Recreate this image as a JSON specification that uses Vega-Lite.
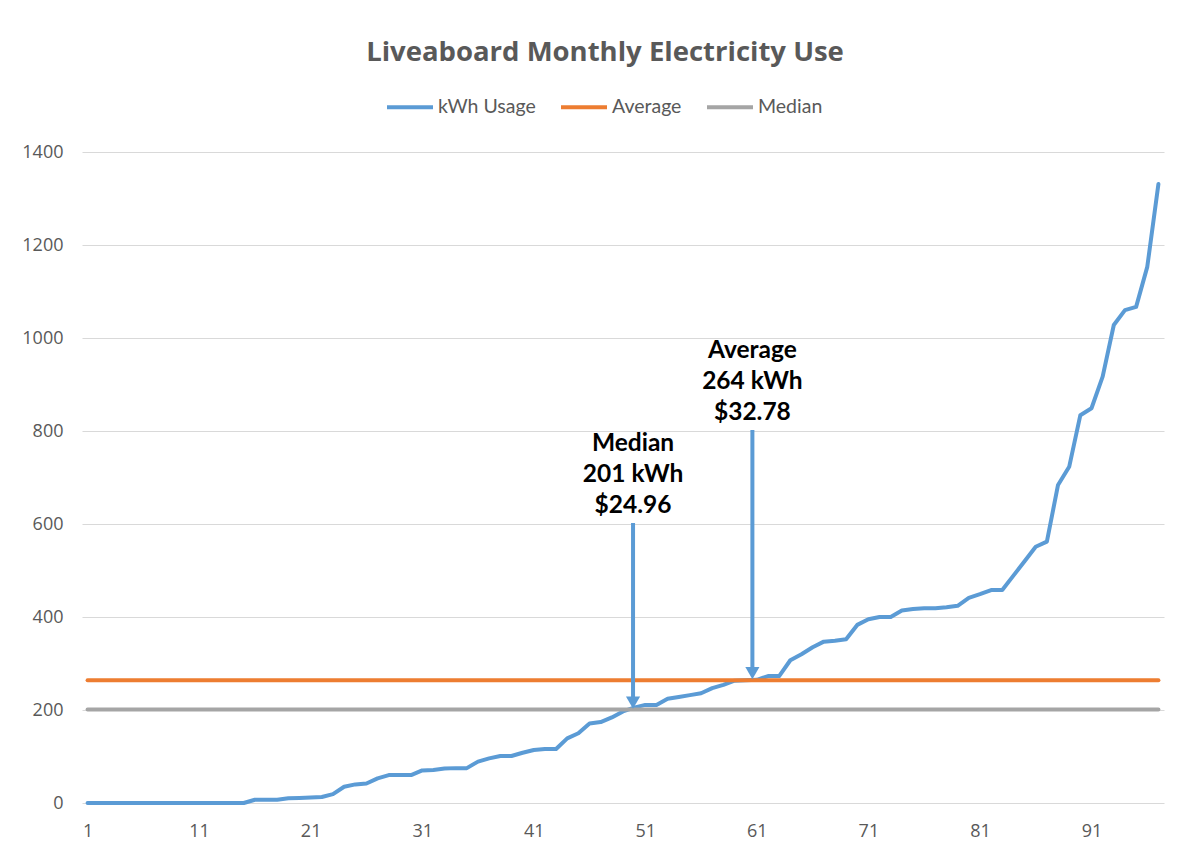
{
  "$schema": "https://vega.github.io/schema/vega-lite/v6.json",
  "autosize": "none",
  "width": 1082,
  "height": 651,
  "padding": {"left": 82, "top": 152, "right": 27, "bottom": 47},
  "background": "white",
  "title": {
    "text": "Liveaboard Monthly Electricity Use",
    "anchor": "middle",
    "dx": -18,
    "offset": 16,
    "font": "Open Sans",
    "fontSize": 27.5,
    "fontWeight": "bold",
    "color": "#595959"
  },
  "config": {
    "view": {"stroke": null},
    "axis": {
      "labelFont": "Open Sans",
      "labelFontSize": 18,
      "labelColor": "#595959",
      "domain": false,
      "ticks": false,
      "title": null
    },
    "legend": {
      "labelFont": "Lato",
      "labelFontSize": 19.5,
      "labelColor": "#595959"
    }
  },
  "datasets": {
    "usage": [
      {"i": 1, "kWh Usage": 0, "Average": 264, "Median": 201},
      {"i": 2, "kWh Usage": 0, "Average": 264, "Median": 201},
      {"i": 3, "kWh Usage": 0, "Average": 264, "Median": 201},
      {"i": 4, "kWh Usage": 0, "Average": 264, "Median": 201},
      {"i": 5, "kWh Usage": 0, "Average": 264, "Median": 201},
      {"i": 6, "kWh Usage": 0, "Average": 264, "Median": 201},
      {"i": 7, "kWh Usage": 0, "Average": 264, "Median": 201},
      {"i": 8, "kWh Usage": 0, "Average": 264, "Median": 201},
      {"i": 9, "kWh Usage": 0, "Average": 264, "Median": 201},
      {"i": 10, "kWh Usage": 0, "Average": 264, "Median": 201},
      {"i": 11, "kWh Usage": 0, "Average": 264, "Median": 201},
      {"i": 12, "kWh Usage": 0, "Average": 264, "Median": 201},
      {"i": 13, "kWh Usage": 0, "Average": 264, "Median": 201},
      {"i": 14, "kWh Usage": 0, "Average": 264, "Median": 201},
      {"i": 15, "kWh Usage": 0, "Average": 264, "Median": 201},
      {"i": 16, "kWh Usage": 7, "Average": 264, "Median": 201},
      {"i": 17, "kWh Usage": 7, "Average": 264, "Median": 201},
      {"i": 18, "kWh Usage": 7, "Average": 264, "Median": 201},
      {"i": 19, "kWh Usage": 10, "Average": 264, "Median": 201},
      {"i": 20, "kWh Usage": 11, "Average": 264, "Median": 201},
      {"i": 21, "kWh Usage": 12, "Average": 264, "Median": 201},
      {"i": 22, "kWh Usage": 13, "Average": 264, "Median": 201},
      {"i": 23, "kWh Usage": 19, "Average": 264, "Median": 201},
      {"i": 24, "kWh Usage": 35, "Average": 264, "Median": 201},
      {"i": 25, "kWh Usage": 40, "Average": 264, "Median": 201},
      {"i": 26, "kWh Usage": 42, "Average": 264, "Median": 201},
      {"i": 27, "kWh Usage": 53, "Average": 264, "Median": 201},
      {"i": 28, "kWh Usage": 60, "Average": 264, "Median": 201},
      {"i": 29, "kWh Usage": 60, "Average": 264, "Median": 201},
      {"i": 30, "kWh Usage": 60, "Average": 264, "Median": 201},
      {"i": 31, "kWh Usage": 70, "Average": 264, "Median": 201},
      {"i": 32, "kWh Usage": 71, "Average": 264, "Median": 201},
      {"i": 33, "kWh Usage": 74, "Average": 264, "Median": 201},
      {"i": 34, "kWh Usage": 75, "Average": 264, "Median": 201},
      {"i": 35, "kWh Usage": 75, "Average": 264, "Median": 201},
      {"i": 36, "kWh Usage": 89, "Average": 264, "Median": 201},
      {"i": 37, "kWh Usage": 96, "Average": 264, "Median": 201},
      {"i": 38, "kWh Usage": 101, "Average": 264, "Median": 201},
      {"i": 39, "kWh Usage": 101, "Average": 264, "Median": 201},
      {"i": 40, "kWh Usage": 108, "Average": 264, "Median": 201},
      {"i": 41, "kWh Usage": 114, "Average": 264, "Median": 201},
      {"i": 42, "kWh Usage": 116, "Average": 264, "Median": 201},
      {"i": 43, "kWh Usage": 116, "Average": 264, "Median": 201},
      {"i": 44, "kWh Usage": 139, "Average": 264, "Median": 201},
      {"i": 45, "kWh Usage": 150, "Average": 264, "Median": 201},
      {"i": 46, "kWh Usage": 171, "Average": 264, "Median": 201},
      {"i": 47, "kWh Usage": 174, "Average": 264, "Median": 201},
      {"i": 48, "kWh Usage": 184, "Average": 264, "Median": 201},
      {"i": 49, "kWh Usage": 197, "Average": 264, "Median": 201},
      {"i": 50, "kWh Usage": 205, "Average": 264, "Median": 201},
      {"i": 51, "kWh Usage": 211, "Average": 264, "Median": 201},
      {"i": 52, "kWh Usage": 211, "Average": 264, "Median": 201},
      {"i": 53, "kWh Usage": 224, "Average": 264, "Median": 201},
      {"i": 54, "kWh Usage": 228, "Average": 264, "Median": 201},
      {"i": 55, "kWh Usage": 232, "Average": 264, "Median": 201},
      {"i": 56, "kWh Usage": 236, "Average": 264, "Median": 201},
      {"i": 57, "kWh Usage": 247, "Average": 264, "Median": 201},
      {"i": 58, "kWh Usage": 254, "Average": 264, "Median": 201},
      {"i": 59, "kWh Usage": 263, "Average": 264, "Median": 201},
      {"i": 60, "kWh Usage": 264, "Average": 264, "Median": 201},
      {"i": 61, "kWh Usage": 265, "Average": 264, "Median": 201},
      {"i": 62, "kWh Usage": 273, "Average": 264, "Median": 201},
      {"i": 63, "kWh Usage": 273, "Average": 264, "Median": 201},
      {"i": 64, "kWh Usage": 307, "Average": 264, "Median": 201},
      {"i": 65, "kWh Usage": 320, "Average": 264, "Median": 201},
      {"i": 66, "kWh Usage": 335, "Average": 264, "Median": 201},
      {"i": 67, "kWh Usage": 347, "Average": 264, "Median": 201},
      {"i": 68, "kWh Usage": 349, "Average": 264, "Median": 201},
      {"i": 69, "kWh Usage": 352, "Average": 264, "Median": 201},
      {"i": 70, "kWh Usage": 383, "Average": 264, "Median": 201},
      {"i": 71, "kWh Usage": 395, "Average": 264, "Median": 201},
      {"i": 72, "kWh Usage": 400, "Average": 264, "Median": 201},
      {"i": 73, "kWh Usage": 400, "Average": 264, "Median": 201},
      {"i": 74, "kWh Usage": 414, "Average": 264, "Median": 201},
      {"i": 75, "kWh Usage": 417, "Average": 264, "Median": 201},
      {"i": 76, "kWh Usage": 419, "Average": 264, "Median": 201},
      {"i": 77, "kWh Usage": 419, "Average": 264, "Median": 201},
      {"i": 78, "kWh Usage": 421, "Average": 264, "Median": 201},
      {"i": 79, "kWh Usage": 424, "Average": 264, "Median": 201},
      {"i": 80, "kWh Usage": 441, "Average": 264, "Median": 201},
      {"i": 81, "kWh Usage": 449, "Average": 264, "Median": 201},
      {"i": 82, "kWh Usage": 458, "Average": 264, "Median": 201},
      {"i": 83, "kWh Usage": 458, "Average": 264, "Median": 201},
      {"i": 84, "kWh Usage": 489, "Average": 264, "Median": 201},
      {"i": 85, "kWh Usage": 520, "Average": 264, "Median": 201},
      {"i": 86, "kWh Usage": 551, "Average": 264, "Median": 201},
      {"i": 87, "kWh Usage": 562, "Average": 264, "Median": 201},
      {"i": 88, "kWh Usage": 684, "Average": 264, "Median": 201},
      {"i": 89, "kWh Usage": 723, "Average": 264, "Median": 201},
      {"i": 90, "kWh Usage": 834, "Average": 264, "Median": 201},
      {"i": 91, "kWh Usage": 849, "Average": 264, "Median": 201},
      {"i": 92, "kWh Usage": 917, "Average": 264, "Median": 201},
      {"i": 93, "kWh Usage": 1028, "Average": 264, "Median": 201},
      {"i": 94, "kWh Usage": 1060, "Average": 264, "Median": 201},
      {"i": 95, "kWh Usage": 1067, "Average": 264, "Median": 201},
      {"i": 96, "kWh Usage": 1153, "Average": 264, "Median": 201},
      {"i": 97, "kWh Usage": 1331, "Average": 264, "Median": 201}
    ],
    "notes": [
      {"label": "Median|201 kWh|$24.96", "i": 49.9, "top": 602, "tip": 201},
      {"label": "Average|264 kWh|$32.78", "i": 60.6, "top": 802, "tip": 264}
    ]
  },
  "layer": [
    {
      "data": {"name": "usage"},
      "transform": [
        {"fold": ["kWh Usage", "Average", "Median"], "as": ["series", "value"]}
      ],
      "mark": {"type": "line", "strokeWidth": 4, "strokeJoin": "round", "strokeCap": "round"},
      "encoding": {
        "x": {
          "field": "i",
          "type": "quantitative",
          "scale": {"domain": [0.5, 97.5], "nice": false, "zero": false},
          "axis": {
            "values": [1, 11, 21, 31, 41, 51, 61, 71, 81, 91],
            "grid": false,
            "labelPadding": 19,
            "labelFlush": false,
            "labelOverlap": false
          }
        },
        "y": {
          "field": "value",
          "type": "quantitative",
          "scale": {"domain": [0, 1400], "nice": false},
          "axis": {
            "values": [0, 200, 400, 600, 800, 1000, 1200, 1400],
            "format": "d",
            "grid": true,
            "gridColor": "#d9d9d9",
            "gridWidth": 1,
            "labelPadding": 19
          }
        },
        "color": {
          "field": "series",
          "type": "nominal",
          "scale": {
            "domain": ["kWh Usage", "Average", "Median"],
            "range": ["#5B9BD5", "#ED7D31", "#A5A5A5"]
          },
          "legend": {
            "title": null,
            "orient": "none",
            "legendX": 303,
            "legendY": -70,
            "direction": "horizontal",
            "symbolType": "stroke",
            "symbolSize": 2116,
            "symbolStrokeWidth": 4,
            "padding": 0,
            "labelOffset": 3,
            "columnPadding": 17
          }
        }
      }
    },
    {
      "data": {"name": "notes"},
      "mark": {"type": "rule", "color": "#5B9BD5", "strokeWidth": 4, "y2Offset": -10},
      "encoding": {
        "x": {"field": "i", "type": "quantitative"},
        "y": {"field": "top", "type": "quantitative"},
        "y2": {"field": "tip"}
      }
    },
    {
      "data": {"name": "notes"},
      "mark": {"type": "point", "shape": "triangle-down", "filled": true, "opacity": 1, "size": 200, "color": "#5B9BD5", "yOffset": -7},
      "encoding": {
        "x": {"field": "i", "type": "quantitative"},
        "y": {"field": "tip", "type": "quantitative"}
      }
    },
    {
      "data": {"name": "notes"},
      "mark": {"type": "text", "lineBreak": "|", "align": "center", "baseline": "bottom", "dy": -67, "font": "Lato", "fontSize": 24.5, "fontWeight": "bold", "color": "black", "lineHeight": 31},
      "encoding": {
        "x": {"field": "i", "type": "quantitative"},
        "y": {"field": "top", "type": "quantitative"},
        "text": {"field": "label", "type": "nominal"}
      }
    }
  ]
}
